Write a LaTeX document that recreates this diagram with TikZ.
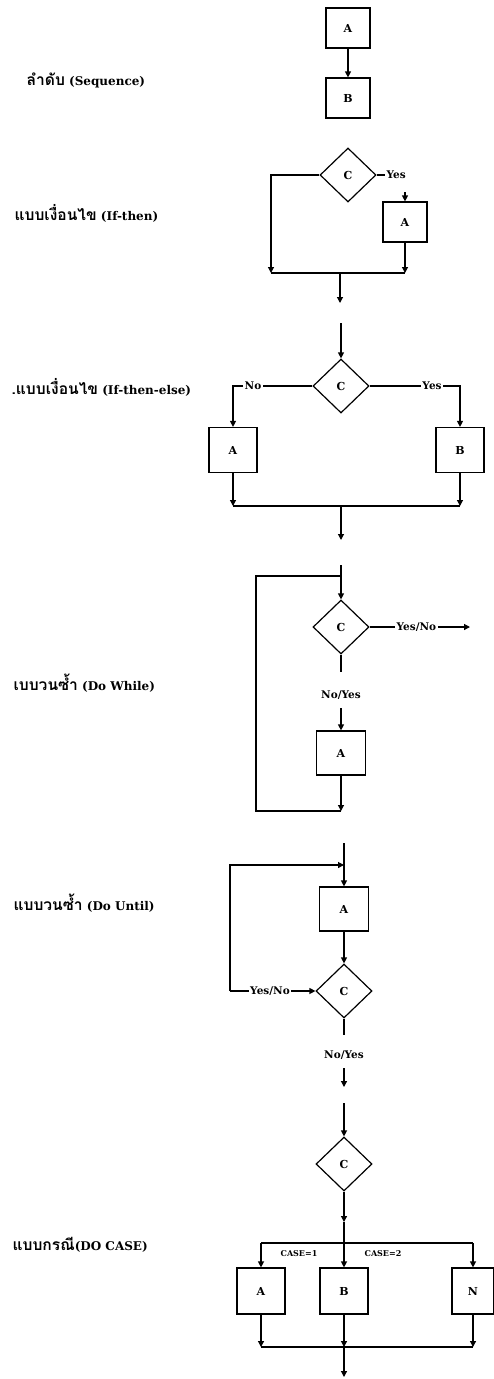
\documentclass[tikz,border=0pt]{standalone}
\usepackage{fontspec}
\setmainfont{DejaVu Serif}
\newfontfamily\thaifont[Script=Thai,Scale=1.3]{Loma}
\usepackage{tikz}
\usetikzlibrary{shapes.geometric,arrows.meta,calc}

\begin{document}
\begin{tikzpicture}[x=1pt,y=-1pt,line width=1.2pt,
	>={Triangle[length=6pt,width=6pt]},
	box/.style={draw,minimum width=44pt,minimum height=40pt,inner sep=0pt,
		font=\bfseries\fontsize{11}{13}\selectfont},
	cond/.style={draw,diamond,minimum width=56pt,minimum height=54pt,inner sep=0pt,
		font=\bfseries\fontsize{11}{13}\selectfont},
	tag/.style={inner sep=1pt,font=\bfseries\fontsize{10.5}{12}\selectfont},
	casetag/.style={inner sep=1pt,font=\bfseries\fontsize{8}{9}\selectfont},
	title/.style={anchor=west,inner sep=0pt,font=\bfseries\fontsize{12}{14}\selectfont}]
	\useasboundingbox (0,0) rectangle (494,1379);
	
	% Sequence
	\node[box] (s1a) at (348,28) {A};
	\node[box] (s1b) at (348,98) {B};
	\draw[->] (s1a) -- (s1b);
	
	% If-then
	\node[cond] (s2c) at (348,175) {C};
	\node[box] (s2a) at (405,222) {A};
	\node[tag,anchor=west] (s2y) at (385,175) {Yes};
	\foreach \x/\y/\z in 
	{271/273/s2l,405/273/s2r,340/273/s2m,340/303/s2o}{
		\coordinate (\z) at (\x,\y);
	}
	\draw (s2c.east) -- (s2y.west);
	\draw[->] ([yshift=9pt]s2a.north) -- (s2a.north);
	\draw[->] (s2c.west) -| (s2l);
	\draw[->] (s2a) -- (s2r);
	\draw (s2l) -- (s2r);
	\draw[->] (s2m) -- (s2o);
	
	% If-then-else
	\coordinate (s3i) at (341,323);
	\node[cond] (s3c) at (341,386) {C};
	\node[box,minimum width=48pt,minimum height=45pt] (s3a) at (233,450) {A};
	\node[box,minimum width=48pt,minimum height=45pt] (s3b) at (460,450) {B};
	\node[tag] (s3n) at (253,386) {No};
	\node[tag] (s3y) at (432,386) {Yes};
	\foreach \x/\y/\z in 
	{233/506/s3l,460/506/s3r,341/506/s3m,341/540/s3o}{
		\coordinate (\z) at (\x,\y);
	}
	\draw[->] (s3i) -- (s3c.north);
	\draw (s3c.west) -- (s3n.east);
	\draw[->] (s3n.west) -| (s3a.north);
	\draw (s3c.east) -- (s3y.west);
	\draw[->] (s3y.east) -| (s3b.north);
	\draw[->] (s3a) -- (s3l);
	\draw[->] (s3b) -- (s3r);
	\draw (s3l) -- (s3r);
	\draw[->] (s3m) -- (s3o);
	
	% Do While
	\node[cond] (s4c) at (341,627) {C};
	\node[tag,anchor=west] (s4y) at (395,627) {Yes/No};
	\node[tag] (s4n) at (341,695) {No/Yes};
	\node[box,minimum width=49pt,minimum height=44pt] (s4a) at (341,753) {A};
	\foreach \x/\y/\z in 
	{341/565/s4i,341/576/s4j,256/576/s4k,470/627/s4e,341/672/s4d,
	 341/708/s4f,341/811/s4b,256/811/s4l}{
		\coordinate (\z) at (\x,\y);
	}
	\draw[->] (s4i) -- (s4c.north);
	\draw (s4c.east) -- (s4y.west);
	\draw[->] (s4y.east) -- (s4e);
	\draw (s4c.south) -- (s4d);
	\draw[->] (s4f) -- (s4a.north);
	\draw[->] (s4a) -- (s4b);
	\draw (s4b) -- (s4l) -- (s4k) -- (s4j);
	
	% Do Until
	\node[box,minimum width=49pt,minimum height=44pt] (s5a) at (344,909) {A};
	\node[cond] (s5c) at (344,991) {C};
	\node[tag] (s5y) at (270,991) {Yes/No};
	\node[tag] (s5n) at (344,1055) {No/Yes};
	\foreach \x/\y/\z in 
	{344/843/s5i,344/865/s5j,230/865/s5k,230/991/s5l,344/1035/s5d,
	 344/1068/s5f,344/1087/s5g}{
		\coordinate (\z) at (\x,\y);
	}
	\draw[->] (s5i) -- (s5a.north);
	\draw[->] (s5a) -- (s5c);
	\draw (s5l) -- (s5y.west);
	\draw[->] (s5y.east) -- (s5c.west);
	\draw[->] (s5l) -- (s5k) -- (s5j);
	\draw (s5c.south) -- (s5d);
	\draw[->] (s5f) -- (s5g);
	
	% Do Case
	\node[cond] (s6c) at (344,1164) {C};
	\node[box,minimum width=48pt,minimum height=46pt] (s6a) at (261,1291) {A};
	\node[box,minimum width=48pt,minimum height=46pt] (s6b) at (344,1291) {B};
	\node[box,minimum width=42pt,minimum height=46pt] (s6n) at (473,1291) {N};
	\node[casetag] (s6k1) at (299,1254) {CASE=1};
	\node[casetag] (s6k2) at (383,1254) {CASE=2};
	\foreach \x/\y/\z in 
	{344/1103/s6i,344/1222/s6h,261/1243/s6l,473/1243/s6r,261/1347/s6p,
	 344/1347/s6q,473/1347/s6s,344/1377/s6o}{
		\coordinate (\z) at (\x,\y);
	}
	\draw[->] (s6i) -- (s6c.north);
	\draw[->] (s6c.south) -- (s6h);
	\draw[->] (s6h) -- (s6b.north);
	\draw (s6l) -- (s6r);
	\draw[->] (s6l) -- (s6a.north);
	\draw[->] (s6r) -- (s6n.north);
	\draw[->] (s6a) -- (s6p);
	\draw[->] (s6b) -- (s6q);
	\draw[->] (s6n) -- (s6s);
	\draw (s6p) -- (s6s);
	\draw[->] (s6q) -- (s6o);
	
	\path 
		(26,80)   node[title] (t1) {{\thaifont ลำดับ} (Sequence)}
		(14,213)  node[title] (t2) {{\thaifont แบบเงื่อนไข} (If-then)}
		(11,387)  node[title] (t3) {{\thaifont .แบบเงื่อนไข} (If-then-else)}
		(13,683)  node[title] (t4) {{\thaifont เบบวนซ้ำ} (Do While)}
		(13,903)  node[title] (t5) {{\thaifont แบบวนซ้ำ} (Do Until)}
		(12,1245) node[title] (t6) {{\thaifont แบบกรณี}(DO CASE)};
\end{tikzpicture}
\end{document}
